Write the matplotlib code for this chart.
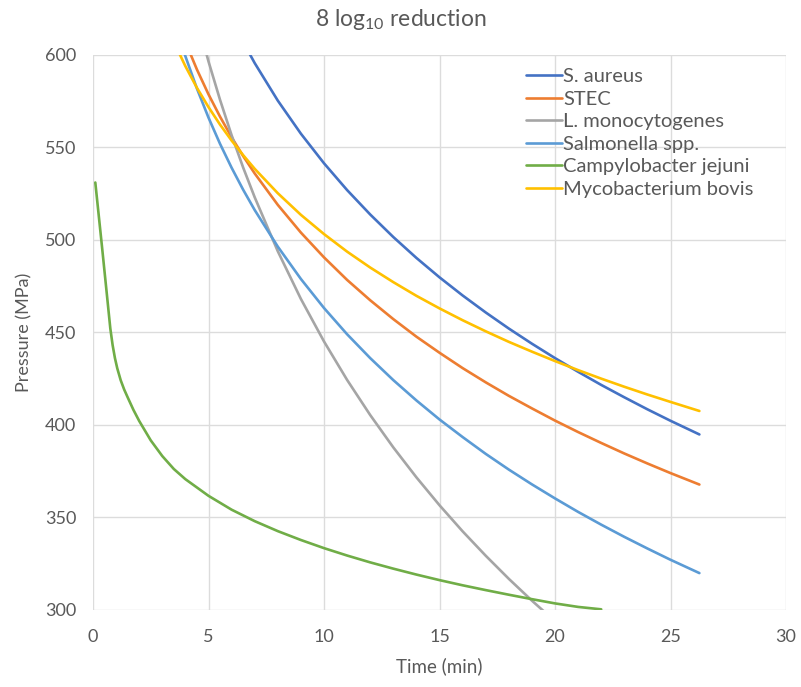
import matplotlib
matplotlib.use("Agg")
import matplotlib.pyplot as plt
import numpy as np

plt.rcParams['font.family'] = ['Lato', 'DejaVu Sans']
plt.rcParams['mathtext.fontset'] = 'custom'
plt.rcParams['mathtext.rm'] = 'Lato'
plt.rcParams['mathtext.default'] = 'regular'

# time points (min)
time = [3.5, 4, 4.5, 5, 5.5, 6, 6.5, 7, 8, 9, 10, 11, 12, 13, 14, 15,
        16, 17, 18, 19, 20, 21, 22, 23, 24, 25, 26.25]

s_aureus = [701, 681, 663, 647, 632, 619, 607, 595.6, 575.3, 557.4, 541.4,
            526.9, 513.7, 501.5, 490.2, 479.7, 469.9, 460.7, 452.0, 443.8,
            436.0, 428.6, 421.5, 414.8, 408.3, 402.1, 394.7]
stec = [624.1, 607.1, 592.1, 578.7, 566.6, 555.5, 545.3, 535.9, 518.9, 503.9,
        490.5, 478.3, 467.3, 457.1, 447.6, 438.9, 430.6, 422.9, 415.6, 408.8,
        402.2, 396.0, 390.1, 384.4, 379.0, 373.8, 367.6]
l_mono = [674.4, 645.2, 619.5, 596.5, 575.7, 556.6, 539.1, 523.0, 493.8, 468.0,
          445.0, 424.2, 405.2, 387.7, 371.5, 356.4, 342.3, 329.1, 316.6, 304.8,
          293.6, np.nan, np.nan, np.nan, np.nan, np.nan, np.nan]
salmonella = [619.1, 599.3, 581.8, 566.1, 551.9, 539.0, 527.1, 516.1, 496.3,
              478.8, 463.1, 448.9, 436.0, 424.1, 413.1, 402.8, 393.3, 384.2,
              375.7, 367.7, 360.1, 352.8, 345.9, 339.3, 333.0, 326.9, 319.7]
m_bovis = [607.1, 593.9, 582.2, 571.8, 562.3, 553.7, 545.8, 538.4, 525.2, 513.5,
           503.1, 493.6, 485.0, 477.1, 469.7, 462.9, 456.5, 450.5, 444.8, 439.5,
           434.4, 429.5, 424.9, 420.5, 416.3, 412.3, 407.4]

time_campy = [0.1, 0.4, 0.6, 0.75, 0.85, 0.95, 1.05, 1.2, 1.35, 1.5, 1.75, 2,
              2.5, 3, 3.5, 4, 5, 6, 7, 8, 9, 10, 11, 12, 13, 14, 15, 16, 17,
              18, 19, 20, 21, 22]
c_jejuni = [531, 495, 470.5, 452, 443, 436, 430.5, 424, 419, 414.8, 408, 402,
            391.5, 383, 376, 370.5, 361.5, 354, 347.8, 342.4, 337.6, 333.2,
            329.2, 325.5, 322.1, 318.9, 315.9, 313.1, 310.5, 308, 305.6, 303.3,
            301.4, 300.1]

names = ["S. aureus", "STEC", "L. monocytogenes", "Salmonella spp.",
         "Campylobacter jejuni", "Mycobacterium bovis"]
colors = ["#4472C4", "#ED7D31", "#A5A5A5", "#5B9BD5", "#70AD47", "#FFC000"]

fig = plt.figure(figsize=(8.01, 6.87), dpi=100)
ax = fig.add_axes([0.1161, 0.1128, 0.8652, 0.8072])

series = [(time, s_aureus), (time, stec), (time, l_mono), (time, salmonella),
          (time_campy, c_jejuni), (time, m_bovis)]
for (x, y), name, c in zip(series, names, colors):
    ax.plot(x, y, color=c, lw=1.9, label=name, solid_capstyle='round')

ax.set_xlim(0, 30)
ax.set_ylim(300, 600)
ax.set_xticks(range(0, 31, 5))
ax.set_yticks(range(300, 601, 50))
ax.grid(True, color="#DCDCDC", lw=1)
ax.set_axisbelow(True)
for s in ax.spines.values():
    s.set_visible(False)
ax.tick_params(length=0, labelsize=13, labelcolor="#595959")
ax.tick_params(axis='x', pad=14)
ax.tick_params(axis='y', pad=12)

ax.set_xlabel("Time (min)", fontsize=13.5, color="#595959", labelpad=9)
ax.set_ylabel("Pressure (MPa)", fontsize=13, color="#595959", labelpad=9)

fig.text(0.5, 1 - 19 / 687, "8 log$_{10}$ reduction", ha="center", va="center",
         fontsize=16.5, color="#595959")

leg = ax.legend(loc="upper left", bbox_to_anchor=(0.613, 0.991), frameon=False,
                fontsize=14.5, handlelength=1.8, handletextpad=0.05,
                labelspacing=0.27, borderaxespad=0)
for t in leg.get_texts():
    t.set_color("#595959")

fig.savefig("out.png", dpi=100)
